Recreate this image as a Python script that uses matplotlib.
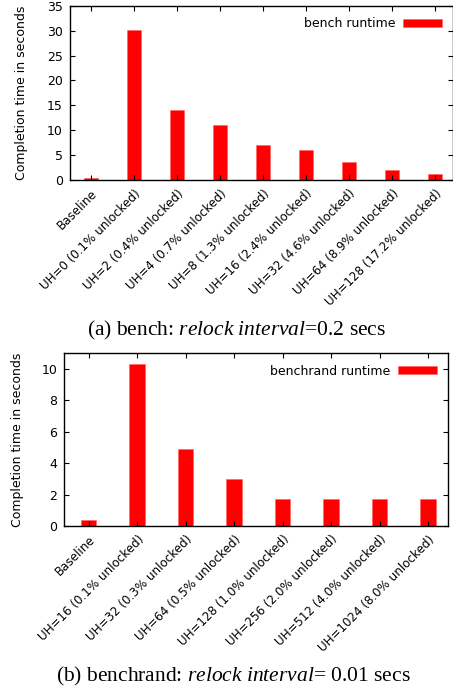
import matplotlib
matplotlib.use("Agg")
import matplotlib.pyplot as plt

plt.rcParams.update({
    "font.family": "DejaVu Sans",
    "font.size": 9,
    "mathtext.fontset": "custom",
    "mathtext.rm": "Liberation Serif",
    "mathtext.it": "Liberation Serif:italic",
})

# ---- data ----
bench_labels = ["Baseline", "UH=0 (0.1% unlocked)", "UH=2 (0.4% unlocked)",
                "UH=4 (0.7% unlocked)", "UH=8 (1.3% unlocked)", "UH=16 (2.4% unlocked)",
                "UH=32 (4.6% unlocked)", "UH=64 (8.9% unlocked)", "UH=128 (17.2% unlocked)"]
bench_times = [0.4, 30.1, 14.1, 11.1, 7.1, 6.1, 3.7, 2.1, 1.2]

rand_labels = ["Baseline", "UH=16 (0.1% unlocked)", "UH=32 (0.3% unlocked)",
               "UH=64 (0.5% unlocked)", "UH=128 (1.0% unlocked)", "UH=256 (2.0% unlocked)",
               "UH=512 (4.0% unlocked)", "UH=1024 (8.0% unlocked)"]
rand_times = [0.35, 10.3, 4.9, 3.0, 1.7, 1.7, 1.7, 1.7]

RED = "#ff0000"


def draw(ax, labels, values, legend, ylim, yticks, xlim, ylabel_x):
    x = list(range(len(values)))
    ax.bar(x, values, width=0.32, color=RED, edgecolor="#ff6060",
           linewidth=0.4, label=legend)
    ax.set_xlim(*xlim)
    ax.set_ylim(*ylim)
    ax.set_yticks(yticks)
    ax.set_xticks(x)
    ax.set_xticklabels(labels, rotation=45, ha="right", va="top",
                       rotation_mode="anchor", fontsize=8.6)
    ax.tick_params(direction="in", length=3.5, width=0.8,
                   top=True, right=True, labelsize=9)
    ax.tick_params(axis="y", pad=5)
    ax.tick_params(axis="x", pad=5, labelsize=8.6)
    for s in ax.spines.values():
        s.set_linewidth(1.0)
    ax.set_ylabel("Completion time in seconds", fontsize=9)
    ax.yaxis.set_label_coords(ylabel_x, 0.5)
    ax.legend(loc="upper right", frameon=False, markerfirst=False,
              handlelength=3.1, handleheight=0.6, handletextpad=0.6,
              borderaxespad=0.5, fontsize=9)


fig = plt.figure(figsize=(4.53, 6.9), dpi=100)

ax1 = fig.add_axes([0.1545, 0.7391, 0.8466, 0.2526])
draw(ax1, bench_labels, bench_times, "bench runtime", (0, 35),
     range(0, 36, 5), (-0.49, 8.43), -0.11)

ax2 = fig.add_axes([0.1413, 0.2377, 0.8477, 0.2503])
draw(ax2, rand_labels, rand_times, "benchrand runtime", (0, 11),
     range(0, 11, 2), (-0.51, 7.41), -0.105)

fig.text(0.522, 0.5217, r"(a) bench: $\it{relock\ interval}$=0.2 secs",
         ha="center", va="center", fontsize=15.5, family="Liberation Serif")
fig.text(0.515, 0.019, r"(b) benchrand: $\it{relock\ interval}$= 0.01 secs",
         ha="center", va="center", fontsize=15.5, family="Liberation Serif")

fig.savefig("out.png", dpi=100)
